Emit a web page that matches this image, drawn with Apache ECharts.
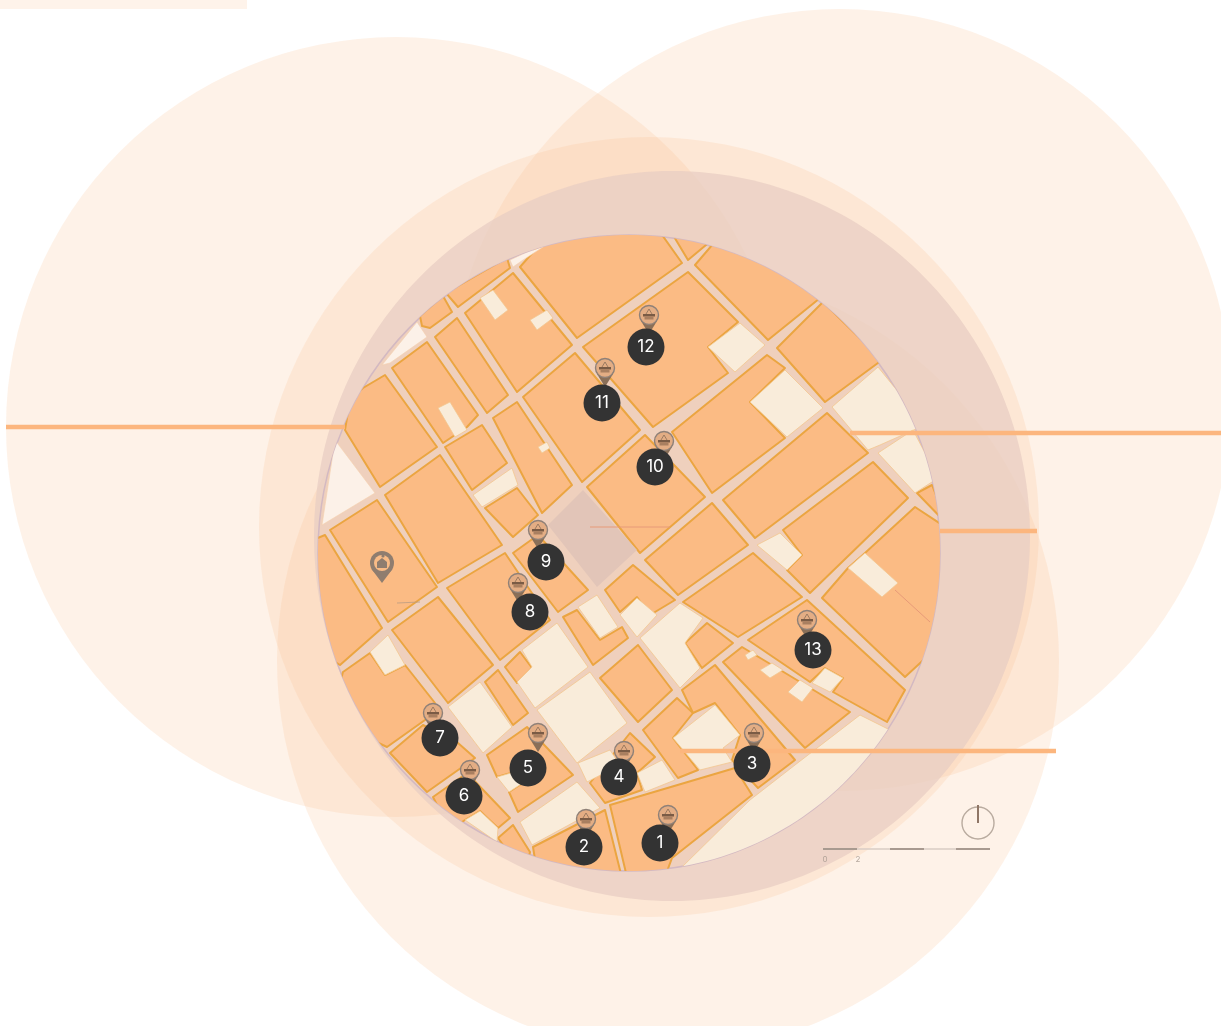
<!DOCTYPE html>
<html><head><meta charset="utf-8">
<style>html,body{margin:0;padding:0;background:#fff}#c{width:1221px;height:1026px}</style>
<script src="https://cdn.jsdelivr.net/npm/echarts@6/dist/echarts.min.js"></script>
</head><body><div id="c"></div>
<script>
const coverageRings = [[396,427,390],[840,400,391],[649,527,390],[668,661,391]];
const innerRing = [672,536,358,365];
const studyDisc = [629,553,311,318];
const radiusLines = [[6,427,345,427],[850,433,1221,433],[940,531,1037,531],[680,751,1056,751]];
const orangeBlocks = [
 [420,316,443,296,452,312,430,328,422,326],
 [446,293,507,258,510,268,458,307],
 [520,267,548,235,655,225,682,263,577,338],
 [465,313,513,273,572,345,517,392],
 [435,337,457,318,508,395,487,413],
 [392,368,427,342,478,415,467,427,443,443],
 [345,430,350,400,363,388,385,375,437,447,380,487],
 [445,447,482,425,507,463,472,490],
 [385,495,440,455,502,545,438,583],
 [493,418,517,402,572,485,542,513],
 [485,508,517,488,538,515,513,537],
 [523,397,575,353,640,430,582,482],
 [583,347,688,272,738,322,708,347,728,373,653,427],
 [695,265,725,230,830,290,768,340],
 [667,225,718,235,688,260],
 [777,348,823,302,882,360,825,402],
 [672,432,767,355,785,368,750,402,785,438,712,493],
 [723,500,827,413,868,453,755,538],
 [783,530,873,462,908,498,810,593,787,570,802,555],
 [917,493,932,485,948,525],
 [822,598,848,568,865,553,915,507,950,530,945,640,905,677],
 [683,602,753,553,802,597,738,637],
 [645,560,712,503,748,545,678,595],
 [587,487,645,435,705,497,640,553],
 [605,590,633,565,675,600,650,615,637,597,620,612],
 [563,617,577,610,600,640,622,627,628,638,593,665],
 [685,643,707,623,733,643,702,668],
 [600,678,638,645,672,690,638,722],
 [505,667,520,652,532,668,517,683],
 [485,682,498,670,528,713,513,725],
 [392,630,438,597,493,665,448,703],
 [447,588,505,553,550,620,500,660],
 [513,553,538,535,588,590,558,612],
 [330,530,377,500,437,587,388,622],
 [300,545,325,535,382,628,340,665,300,640],
 [343,672,370,653,385,675,405,665,435,703,425,720,387,747,330,720],
 [390,753,423,725,458,743,475,758,427,792],
 [433,797,467,773,510,818,498,828,480,811,465,820,450,830],
 [487,755,527,727,573,775,518,812,509,792,535,775,528,768,497,777],
 [533,847,605,810,625,890,540,890],
 [498,838,513,825,530,852,525,875],
 [590,783,630,733,655,757,637,773,642,790,605,803],
 [643,730,677,698,693,713,673,738,698,770,678,778],
 [682,690,715,665,795,760,758,788,732,760,740,735,715,703,693,713],
 [723,662,742,647,850,712,805,748],
 [748,640,807,600,905,690,887,722,833,692,843,678,825,668,810,682],
 [610,805,735,768,752,795,672,858,660,890,630,890]
];
const creamBlocks = [
 [480,298,493,290,508,310,495,320],
 [530,320,547,310,553,318,537,330],
 [438,408,450,402,467,430,455,437],
 [473,495,512,468,518,485,482,507],
 [538,447,547,442,550,448,542,453],
 [708,347,740,323,765,345,735,372],
 [750,402,785,370,823,408,787,437],
 [832,407,878,367,925,425,880,445,868,450],
 [878,453,913,430,938,478,915,493],
 [757,545,780,533,802,555,787,570],
 [848,568,865,553,898,583,882,597],
 [578,607,597,595,618,627,600,638],
 [640,638,680,603,703,618,685,643,700,668,680,688],
 [620,615,637,598,657,615,637,637],
 [522,650,557,623,588,667,535,708,517,682,532,667],
 [537,710,590,672,627,723,577,763],
 [448,707,480,682,512,727,483,753],
 [370,652,388,635,405,665,385,675],
 [465,820,480,811,498,828,497,842],
 [497,777,528,768,535,775,509,792],
 [520,822,577,782,600,808,532,845],
 [637,773,662,760,675,780,645,792],
 [578,763,610,750,620,765,587,782],
 [673,738,715,705,740,735,723,748,732,762,700,770],
 [745,655,753,650,757,655,748,660],
 [760,670,772,663,783,670,770,678],
 [788,692,800,680,813,688,802,702],
 [812,683,825,668,843,678,830,692],
 [677,872,750,800,795,765,860,715,900,735,830,840,720,890]
];
const paleBlocks = [
 [322,525,335,440,375,493],
 [382,365,417,322,427,337,390,363],
 [510,260,557,238,523,260,513,267]
];
const plaza = [548,525,583,490,637,550,597,587];
const redLines = [[590,527,670,527],[895,590,930,622]];
const hairLines = [[397,603,420,602]];
const markerNumbers = ['1','2','3','4','5','6','7','8','9','10','11','12','13'];
const markerX = [660,584,752,619,528,464,440,530,546,655,602,646,813];
const markerY = [843,847,764,777,768,796,738,612,562,467,403,347,650];
const pinX = [668,586,754,624,538,470,433,518,538,664,605,649,807];
const pinY = [815,819,733,751,733,770,713,583,530,441,368,315,620];
const homePin = [382,563];
const scaleDark = [[823,857],[890,924],[956,990]];
const scaleLight = [[857,890],[924,956]];
const scaleY = 849;
const scaleLabels = [['0',825,860],['2',858,860]];
const northMark = [978,823,16];

const chart = echarts.init(document.getElementById('c'),null,{renderer:'canvas'});
function ptsOf(api,a){const r=[];for(let i=0;i<a.length;i+=2)r.push(api.coord([a[i],a[i+1]]));return r;}
function ell(api,e,extra){const c=api.coord([e[0],e[1]]),s=api.size([e[2],e[3]]);return Object.assign({type:'ellipse',shape:{cx:c[0],cy:c[1],rx:s[0],ry:s[1]}},extra||{});}
function discClip(api){return ell(api,studyDisc);}
function circ(api,c,style){const p=api.coord([c[0],c[1]]);return {type:'circle',shape:{cx:p[0],cy:p[1],r:api.size([c[2],0])[0]},style};}
function custom(data,z,fn){return {type:'custom',coordinateSystem:'cartesian2d',silent:true,z,clip:false,
  data:data.map((d,i)=>[i]),encode:{x:0,y:0},renderItem:(p,api)=>fn(data[p.dataIndex],api)};}
function polys(list,z,fill,stroke,w){return custom(list,z,(a,api)=>({type:'polygon',shape:{points:ptsOf(api,a)},
  clipPath:discClip(api),style:{fill,stroke,lineWidth:w,lineJoin:'round'}}));}
function lines(list,z,stroke,w,clipped){return custom(list,z,(a,api)=>{const q=ptsOf(api,a);
  const e={type:'line',shape:{x1:q[0][0],y1:q[0][1],x2:q[1][0],y2:q[1][1]},style:{stroke,lineWidth:w}};
  if(clipped)e.clipPath=discClip(api);return e;});}

const pinSeries = custom(pinX.map((x,i)=>[x,pinY[i]]),30,(c,api)=>{
  const p=api.coord(c),s=api.size([1,0])[0];const x=p[0],y=p[1];
  return {type:'group',children:[
    {type:'polygon',shape:{points:[[x-8*s,y+6*s],[x+8*s,y+6*s],[x,y+19*s]]},style:{fill:'#8a6f58'}},
    {type:'circle',shape:{cx:x,cy:y,r:9.5*s},style:{fill:'#e3ad84',stroke:'#8f8178',lineWidth:1.4}},
    {type:'rect',shape:{x:x-6*s,y:y-1*s,width:12*s,height:2.5*s},style:{fill:'#7a5b45'}},
    {type:'rect',shape:{x:x-4.5*s,y:y+1.5*s,width:9*s,height:3*s},style:{fill:'#a97f60'}},
    {type:'line',shape:{x1:x-3*s,y1:y-1*s,x2:x,y2:y-6*s},style:{stroke:'#8a6f58',lineWidth:.8}},
    {type:'line',shape:{x1:x+3*s,y1:y-1*s,x2:x,y2:y-6*s},style:{stroke:'#8a6f58',lineWidth:.8}}
  ]};
});
const homeSeries = custom([homePin],30,(c,api)=>{
  const p=api.coord(c),s=api.size([1,0])[0],x=p[0],y=p[1];
  return {type:'group',children:[
    {type:'polygon',shape:{points:[[x-10.5*s,y+6*s],[x+10.5*s,y+6*s],[x,y+20*s]]},style:{fill:'#8f7d6f'}},
    {type:'circle',shape:{cx:x,cy:y,r:12*s},style:{fill:'#8f7d6f'}},
    {type:'circle',shape:{cx:x,cy:y,r:8*s},style:{fill:'#f9bb86'}},
    {type:'polygon',shape:{points:[[x-5*s,y+5*s],[x-5*s,y-1*s],[x,y-5*s],[x+5*s,y-1*s],[x+5*s,y+5*s]]},style:{fill:'#8f7d6f'}},
    {type:'circle',shape:{cx:x+1*s,cy:y-7*s,r:1.6*s},style:{fill:'#8f7d6f'}}
  ]};
});
const option = {
  animation:false,backgroundColor:'#ffffff',
  grid:{left:0,right:0,top:0,bottom:0,containLabel:false},
  xAxis:{type:'value',min:0,max:1221,show:false},
  yAxis:{type:'value',min:0,max:1026,inverse:true,show:false},
  series:[
    custom([[0,0,247,9]],1,(a,api)=>{const q=ptsOf(api,a);return {type:'rect',shape:{x:q[0][0],y:q[0][1],width:q[1][0]-q[0][0],height:q[1][1]-q[0][1]},style:{fill:'#fef3ea'}};}),
    custom(coverageRings,2,(c,api)=>circ(api,c,{fill:'rgba(250,190,140,0.2)'})),
    custom([innerRing],3,(e,api)=>ell(api,e,{style:{fill:'rgba(232,205,195,0.75)'}})),
    custom([studyDisc],4,(e,api)=>ell(api,e,{style:{fill:'#efd0bd',stroke:'#d3b9c2',lineWidth:1.5}})),
    polys(orangeBlocks,5,'#fbbb84','#eba541',2),
    polys(creamBlocks,6,'#f9ecda','#f2c78f',0.8),
    polys(paleBlocks,6,'#fcf1e8','#f5d0ad',0.6),
    polys([plaza],6,'#e2c5b8','#e2c5b8',0),
    lines(redLines,7,'#e79a78',1,true),
    lines(hairLines,7,'#b99c84',0.8,true),
    lines(radiusLines,8,'#fcb67e',4.5,false),
    pinSeries,homeSeries,
    {type:'scatter',z:35,silent:true,symbol:'circle',symbolSize:37,itemStyle:{color:'#333333',opacity:1},
     data:markerX.map((x,i)=>[x,markerY[i],markerNumbers[i]]),
     label:{show:true,position:'inside',formatter:p=>p.value[2],color:'#ffffff',fontFamily:'Inter',fontSize:17,fontWeight:400}},
    lines(scaleDark.map(a=>[a[0],scaleY,a[1],scaleY]),20,'#a89a90',2,false),
    lines(scaleLight.map(a=>[a[0],scaleY,a[1],scaleY]),20,'#d9cdc4',1.5,false),
    custom([northMark],20,(c,api)=>circ(api,c,{fill:'none',stroke:'#b9ab9f',lineWidth:1.4})),
    lines([[978,805,978,823]],21,'#8f7666',2,false),
    {type:'scatter',z:22,silent:true,symbolSize:0,data:scaleLabels.map(l=>[l[1],l[2],l[0]]),
     label:{show:true,position:'inside',formatter:p=>p.value[2],color:'#a3968c',fontFamily:'Inter',fontSize:8}}
  ]
};
chart.setOption(option);
</script></body></html>
